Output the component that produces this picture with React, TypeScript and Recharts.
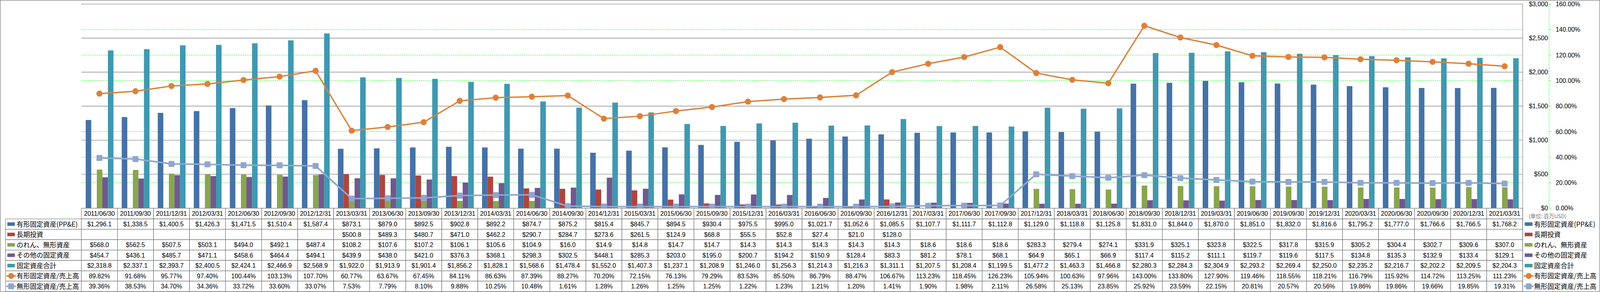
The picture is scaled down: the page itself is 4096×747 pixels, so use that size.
import React from 'react';
import { ComposedChart, Bar, Line, XAxis, YAxis, CartesianGrid } from 'recharts';

const dates = ['2011/06/30','2011/09/30','2011/12/31','2012/03/31','2012/06/30','2012/09/30','2012/12/31','2013/03/31','2013/06/30','2013/09/30','2013/12/31','2014/03/31','2014/06/30','2014/09/30','2014/12/31','2015/03/31','2015/06/30','2015/09/30','2015/12/31','2016/03/31','2016/06/30','2016/09/30','2016/12/31','2017/03/31','2017/06/30','2017/09/30','2017/12/31','2018/03/31','2018/06/30','2018/09/30','2018/12/31','2019/03/31','2019/06/30','2019/09/30','2019/12/31','2020/03/31','2020/06/30','2020/09/30','2020/12/31','2021/03/31'];
const ppe = [1296.1,1338.5,1400.5,1426.3,1471.5,1510.4,1587.4,873.1,879.0,892.5,902.8,892.2,874.7,875.2,815.4,845.7,894.5,930.4,975.5,995.0,1021.7,1052.6,1085.5,1107.7,1111.7,1112.8,1129.0,1118.8,1125.8,1831.0,1844.0,1870.0,1851.0,1832.0,1816.6,1795.2,1777.0,1766.6,1766.5,1768.2];
const ltInvest: (number | null)[] = [null,null,null,null,null,null,null,500.8,489.3,480.7,471.0,462.2,290.7,284.7,273.6,261.5,124.9,68.8,55.5,52.8,27.4,21.0,128.0,null,null,null,null,null,null,null,null,null,null,null,null,null,null,null,null,null];
const goodwill = [568.0,562.5,507.5,503.1,494.0,492.1,487.4,108.2,107.6,107.2,106.1,105.6,104.9,16.0,14.9,14.8,14.7,14.7,14.3,14.3,14.3,14.3,14.3,18.6,18.6,18.6,283.3,279.4,274.1,331.9,325.1,323.8,322.5,317.8,315.9,305.2,304.4,302.7,309.6,307.0];
const otherAssets = [454.7,436.1,485.7,471.1,458.6,464.4,494.1,439.9,438.0,421.0,376.3,368.1,298.3,302.5,448.1,285.3,203.0,195.0,200.7,194.2,150.9,128.4,83.3,81.2,78.1,68.1,64.9,65.1,66.9,117.4,115.2,111.1,119.7,119.6,117.5,134.8,135.3,132.9,133.4,129.1];
const totalFixed = [2318.8,2337.1,2393.7,2400.5,2424.1,2466.9,2568.9,1922.0,1913.9,1901.4,1856.2,1828.1,1568.6,1478.4,1552.0,1407.3,1237.1,1208.9,1246.0,1256.3,1214.3,1216.3,1311.1,1207.5,1208.4,1199.5,1477.2,1463.3,1466.8,2280.3,2284.3,2304.9,2293.2,2269.4,2250.0,2235.2,2216.7,2202.2,2209.5,2204.3];
const ppeRatio = [89.82,91.68,95.77,97.40,100.44,103.13,107.70,60.77,63.67,67.45,84.11,86.63,87.39,88.27,70.20,72.15,76.13,79.29,83.53,85.50,86.79,88.47,106.67,113.23,118.45,126.23,105.94,100.63,97.96,143.00,133.80,127.90,119.46,118.55,118.21,116.79,115.92,114.72,113.25,111.23];
const intangRatio = [39.36,38.53,34.70,34.36,33.72,33.60,33.07,7.53,7.79,8.10,9.88,10.25,10.48,1.61,1.28,1.26,1.25,1.25,1.22,1.23,1.21,1.20,1.41,1.90,1.98,2.11,26.58,25.13,23.85,25.92,23.59,22.15,20.81,20.57,20.56,19.86,19.86,19.66,19.85,19.31];

const usdTicks = [0, 500, 1000, 1500, 2000, 2500, 3000];
const pctTicks = [0, 20, 40, 60, 80, 100, 120, 140, 160];

const seriesLabels = ['有形固定資産(PP&E)', '長期投資', 'のれん、無形資産', 'その他の固定資産', '固定資産合計', '有形固定資産/売上高', '無形固定資産/売上高'];
const unitLabel = '(単位: 百万USD)';

const C_PPE = '#4572A7';
const C_LT = '#AA4643';
const C_GW = '#89A54E';
const C_OT = '#71588F';
const C_TOT = '#4198AF';
const C_OR = '#DC8139';
const C_BL = '#8FA6CF';
const GRID = '#878787';
const GREEN = '#00FF00';

const W = 4096;
const H = 747;
const L = 208.4;
const R = 3898.0;
const T = 10.46;
const B = 532.56;
const HEAD_H = 27.44;
const ROW_H = 26.54;
const TABLE_BOTTOM = B + HEAD_H + 7 * ROW_H;
const XAXIS_H = TABLE_BOTTOM - B;
const MB = H - TABLE_BOTTOM;
const PCT_AXIS_X = 3965.7;
const USD_W = PCT_AXIS_X - R;
const PCT_W = W - PCT_AXIS_X;
const USD_LABEL_X = 3962.9;
const PCT_LABEL_X = 3982.4;
const COL = (R - L) / 40;
const LEG_LEFT = 14.2;

const FONT_NUM = "'Liberation Sans', Arial, sans-serif";
const FONT_JP = "'Noto Sans CJK JP', 'Noto Sans', sans-serif";

const money = (v: number | null) =>
  v == null ? '' : '$' + v.toLocaleString('en-US', { minimumFractionDigits: 1, maximumFractionDigits: 1 });
const pct = (v: number) => v.toFixed(2) + '%';

const rows = dates.map((d, i) => ({
  date: d,
  ppe: ppe[i],
  lt: ltInvest[i],
  gw: goodwill[i],
  other: otherAssets[i],
  total: totalFixed[i],
  ppeR: ppeRatio[i],
  intR: intangRatio[i],
}));

const tableRows: string[][] = [
  ppe.map(money),
  ltInvest.map(money),
  goodwill.map(money),
  otherAssets.map(money),
  totalFixed.map(money),
  ppeRatio.map(pct),
  intangRatio.map(pct),
];

const ColumnTick = (p: any) => {
  const val = p.payload ? p.payload.value : '';
  let idx = dates.indexOf(val);
  if (idx < 0) idx = p.index ?? 0;
  const x = p.x;
  const x0 = x - COL / 2;
  const cells: React.ReactNode[] = [];
  cells.push(
    <rect key="h" x={x0} y={B} width={COL} height={HEAD_H} fill="none" stroke={GRID} strokeWidth={1.3} />
  );
  cells.push(
    <text key="ht" x={x} y={B + HEAD_H / 2} dy="0.36em" textAnchor="middle" fontFamily={FONT_NUM} fontSize={16} fill="#000">
      {dates[idx]}
    </text>
  );
  tableRows.forEach((r, k) => {
    const top = B + HEAD_H + k * ROW_H;
    cells.push(
      <rect key={'r' + k} x={x0} y={top} width={COL} height={ROW_H} fill="none" stroke={GRID} strokeWidth={1.3} />
    );
    cells.push(
      <text key={'t' + k} x={x} y={top + ROW_H / 2} dy="0.36em" textAnchor="middle" fontFamily={FONT_NUM} fontSize={16} fill="#000">
        {r[idx]}
      </text>
    );
  });
  return <g>{cells}</g>;
};

const UsdTick = (p: any) => (
  <text x={USD_LABEL_X} y={p.y} dy="0.36em" textAnchor="end" fontFamily={FONT_NUM} fontSize={16} fill="#000">
    {'$' + Number(p.payload.value).toLocaleString('en-US')}
  </text>
);

const PctTick = (p: any) => (
  <g>
    <line x1={PCT_AXIS_X} x2={PCT_AXIS_X + 5.5} y1={p.y} y2={p.y} stroke={GREEN} strokeWidth={1} />
    <text x={PCT_LABEL_X} y={p.y} dy="0.36em" textAnchor="start" fontFamily={FONT_NUM} fontSize={16} fill="#000">
      {Number(p.payload.value).toFixed(2) + '%'}
    </text>
  </g>
);

const OrangeDot = (p: any) =>
  p.cx == null ? <g key={p.index} /> : <circle key={p.index} cx={p.cx} cy={p.cy} r={7.8} fill={C_OR} />;
const BlueDot = (p: any) =>
  p.cx == null ? (
    <g key={p.index} />
  ) : (
    <rect key={p.index} x={p.cx - 7.6} y={p.cy - 7.6} width={15.2} height={15.2} rx={2.2} fill={C_BL} />
  );

const legendKinds = [
  { type: 'rect', color: C_PPE },
  { type: 'rect', color: C_LT },
  { type: 'rect', color: C_GW },
  { type: 'rect', color: C_OT },
  { type: 'rect', color: C_TOT },
  { type: 'circle', color: C_OR },
  { type: 'square', color: C_BL },
];

const LegendIcon = ({ kind, x0, x1, cy }: { kind: any; x0: number; x1: number; cy: number }) => {
  if (kind.type === 'rect') {
    return <rect x={x0 + 1} y={cy - 4.5} width={x1 - x0 - 2} height={9} fill={kind.color} />;
  }
  const cx = (x0 + x1) / 2;
  return (
    <g>
      <line x1={x0} x2={x1} y1={cy} y2={cy} stroke={kind.color} strokeWidth={kind.type === 'circle' ? 3.5 : 4} />
      {kind.type === 'circle' ? (
        <circle cx={cx} cy={cy} r={7.6} fill={kind.color} />
      ) : (
        <rect x={cx - 7.4} y={cy - 7.4} width={14.8} height={14.8} rx={2.2} fill={kind.color} />
      )}
    </g>
  );
};

const Overlay = () => (
  <svg width={W} height={H} style={{ position: 'absolute', left: 0, top: 0, pointerEvents: 'none' }}>
    <rect x={0.7} y={0.7} width={W - 1.4} height={H - 1.4} fill="none" stroke={GRID} strokeWidth={1.4} />
    <line x1={R} x2={R} y1={T} y2={TABLE_BOTTOM} stroke={GRID} strokeWidth={1.3} />
    <line x1={PCT_AXIS_X} x2={PCT_AXIS_X} y1={T} y2={B} stroke={GREEN} strokeWidth={1} strokeDasharray="3.5 2" />
    {seriesLabels.map((lab, k) => {
      const top = B + HEAD_H + k * ROW_H;
      const cy = top + ROW_H / 2;
      return (
        <g key={k}>
          <rect x={LEG_LEFT} y={top} width={L - LEG_LEFT} height={ROW_H} fill="none" stroke={GRID} strokeWidth={1.3} />
          <LegendIcon kind={legendKinds[k]} x0={k < 5 ? 17.8 : 16} x1={k < 5 ? 39 : 41} cy={cy} />
          <text x={42.5} y={cy} dy="0.38em" fontFamily={FONT_JP} fontSize={17} fill="#000">
            {lab}
          </text>
          <LegendIcon kind={legendKinds[k]} x0={k < 5 ? 3902.2 : 3901} x1={k < 5 ? 3924.2 : 3926} cy={cy} />
          <text x={3927.3} y={cy} dy="0.38em" fontFamily={FONT_JP} fontSize={17} fill="#000">
            {lab}
          </text>
        </g>
      );
    })}
    <text x={3913.4} y={552.8} dy="0.38em" fontFamily={FONT_JP} fontSize={13.5} fill="#707070">
      {unitLabel}
    </text>
  </svg>
);

export default function App() {
  return (
    <div style={{ position: 'absolute', left: 0, top: 0, width: W, height: H, background: '#fff', overflow: 'hidden' }}>
      <ComposedChart
        width={W}
        height={H}
        data={rows}
        margin={{ top: T, right: 0, bottom: MB, left: L }}
        barGap={0}
      >
        <CartesianGrid yAxisId="pct" vertical={false} stroke={GREEN} strokeWidth={1} strokeDasharray="3.5 2" />
        <CartesianGrid yAxisId="usd" vertical={false} stroke={GRID} strokeWidth={1.3} />
        <XAxis
          dataKey="date"
          type="category"
          interval={0}
          height={XAXIS_H}
          tickLine={false}
          axisLine={false}
          tickSize={0}
          tickMargin={0}
          tick={ColumnTick}
        />
        <YAxis
          yAxisId="usd"
          orientation="right"
          type="number"
          domain={[0, 3000]}
          ticks={usdTicks}
          interval={0}
          width={USD_W}
          axisLine={false}
          tickLine={false}
          tick={UsdTick}
          allowDataOverflow
        />
        <YAxis
          yAxisId="pct"
          orientation="right"
          type="number"
          domain={[0, 160]}
          ticks={pctTicks}
          interval={0}
          width={PCT_W}
          axisLine={false}
          tickLine={false}
          tick={PctTick}
          allowDataOverflow
        />
        <Bar yAxisId="usd" dataKey="ppe" name={seriesLabels[0]} fill={C_PPE} barSize={14.22} isAnimationActive={false} />
        <Bar yAxisId="usd" dataKey="lt" name={seriesLabels[1]} fill={C_LT} barSize={14.22} isAnimationActive={false} />
        <Bar yAxisId="usd" dataKey="gw" name={seriesLabels[2]} fill={C_GW} barSize={14.22} isAnimationActive={false} />
        <Bar yAxisId="usd" dataKey="other" name={seriesLabels[3]} fill={C_OT} barSize={14.22} isAnimationActive={false} />
        <Bar yAxisId="usd" dataKey="total" name={seriesLabels[4]} fill={C_TOT} barSize={14.22} isAnimationActive={false} />
        <Line
          yAxisId="pct"
          type="linear"
          dataKey="ppeR"
          name={seriesLabels[5]}
          stroke={C_OR}
          strokeWidth={3.5}
          dot={OrangeDot}
          activeDot={false}
          isAnimationActive={false}
        />
        <Line
          yAxisId="pct"
          type="linear"
          dataKey="intR"
          name={seriesLabels[6]}
          stroke={C_BL}
          strokeWidth={4}
          dot={BlueDot}
          activeDot={false}
          isAnimationActive={false}
        />
      </ComposedChart>
      <Overlay />
    </div>
  );
}
